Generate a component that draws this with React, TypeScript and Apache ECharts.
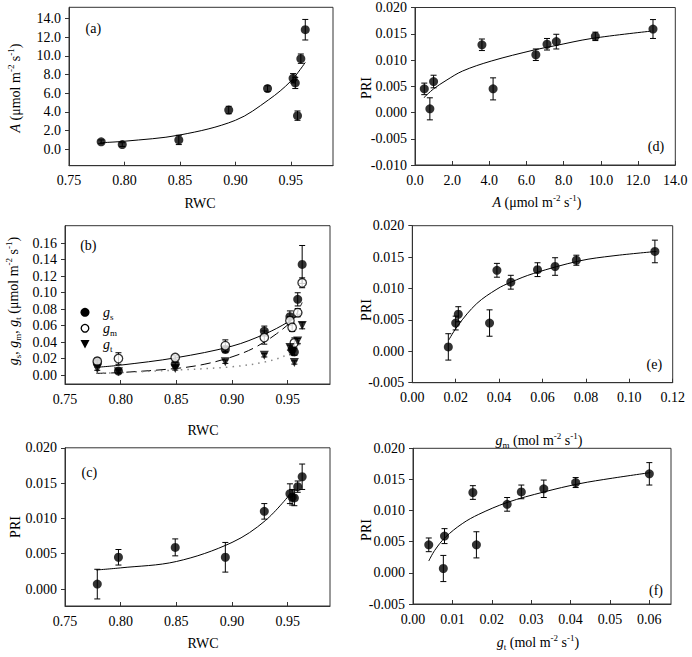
import React, { useEffect, useRef } from "react";
import * as echarts from "echarts";

// ---- observations (10 leaves) ----
const rwc = [0.779, 0.798, 0.849, 0.894, 0.929, 0.952, 0.954, 0.956, 0.959, 0.963];
const photoA = [0.8, 0.5, 1.0, 4.2, 6.5, 7.6, 7.1, 3.6, 9.7, 12.8];
const photoAErr = [0.2, 0.2, 0.5, 0.4, 0.3, 0.5, 0.6, 0.5, 0.5, 1.1];
const gs = [0.015, 0.0048, 0.0133, 0.031, 0.0533, 0.0707, 0.031, 0.028, 0.0917, 0.134];
const gsErr = [0.003, 0.002, 0.002, 0.004, 0.006, 0.007, 0.004, 0.004, 0.008, 0.023];
const gm = [0.0166, 0.02, 0.0212, 0.0356, 0.0454, 0.0658, 0.0577, 0.039, 0.0756, 0.1118];
const gmErr = [0.004, 0.007, 0.002, 0.007, 0.008, 0.005, 0.005, 0.006, 0.005, 0.006];
const gt = [0.0077, 0.004, 0.008, 0.0161, 0.0239, 0.0332, 0.0275, 0.0152, 0.0413, 0.06];
const gtErr = [0.002, 0.002, 0.002, 0.002, 0.002, 0.003, 0.003, 0.002, 0.003, 0.004];
const pri = [0.0007, 0.0045, 0.0059, 0.0045, 0.011, 0.0135, 0.013, 0.0129, 0.0145, 0.0159];
const priErr = [0.0021, 0.0011, 0.0012, 0.0021, 0.0011, 0.0014, 0.0011, 0.0011, 0.0008, 0.0018];

// ---- fitted curves ----
const aFitX = [0.778, 0.8, 0.85, 0.9, 0.93, 0.95, 0.963];
const aFitY = [0.7, 0.86, 1.53, 3.1, 5.3, 7.3, 9.3];
const gmFitX = [0.778, 0.8, 0.85, 0.9, 0.93, 0.95, 0.963];
const gmFitY = [0.0093, 0.012, 0.021, 0.035, 0.05, 0.064, 0.076];
const gsFitX = [0.778, 0.8, 0.85, 0.875, 0.9, 0.92, 0.94, 0.955, 0.963];
const gsFitY = [0.002, 0.003, 0.008, 0.013, 0.022, 0.033, 0.05, 0.068, 0.088];
const gtFitX = [0.778, 0.8, 0.85, 0.9, 0.93, 0.95, 0.963];
const gtFitY = [0.002, 0.003, 0.006, 0.01, 0.016, 0.025, 0.04];
const cFitX = [0.778, 0.8, 0.85, 0.9, 0.93, 0.953];
const cFitY = [0.0027, 0.003, 0.0039, 0.0066, 0.0097, 0.0136];
const dFitX = [0.47, 1.0, 1.67, 2.56, 4.1, 6.4, 7.5, 9.5, 12.7];
const dFitY = [0.0028, 0.0045, 0.0061, 0.0079, 0.0098, 0.0119, 0.0127, 0.0141, 0.0155];
const eFitX = [0.0168, 0.0212, 0.0297, 0.039, 0.0454, 0.0559, 0.0771, 0.0925, 0.1125];
const eFitY = [0.0018, 0.0042, 0.0076, 0.0099, 0.011, 0.0124, 0.0144, 0.0152, 0.0159];
const fFitX = [0.004, 0.0055, 0.0082, 0.0125, 0.0167, 0.0239, 0.0333, 0.0421, 0.0506, 0.0603];
const fFitY = [0.0019, 0.0036, 0.0057, 0.0079, 0.0094, 0.0113, 0.013, 0.0143, 0.0152, 0.0161];

// ---- tick labels ----
const rwcTicks = [0.75, 0.8, 0.85, 0.9, 0.95];
const aTicks = [0, 2, 4, 6, 8, 10, 12, 14];
const gTicks = [0, 0.02, 0.04, 0.06, 0.08, 0.1, 0.12, 0.14, 0.16];
const priTicksC = [0, 0.005, 0.01, 0.015, 0.02];
const priTicksD = [-0.01, -0.005, 0, 0.005, 0.01, 0.015, 0.02];
const priTicksEF = [-0.005, 0, 0.005, 0.01, 0.015, 0.02];
const aXTicks = [0, 2, 4, 6, 8, 10, 12, 14];
const gmXTicks = [0, 0.02, 0.04, 0.06, 0.08, 0.1, 0.12];
const gtXTicks = [0, 0.01, 0.02, 0.03, 0.04, 0.05, 0.06];
const legendNames = ["gs", "gm", "gt"];

const FONT = "Liberation Serif";
const AX = "#333";

const rich = {
  i: { fontStyle: "italic", fontFamily: FONT, fontSize: 14, lineHeight: 18 },
  sup: { fontFamily: FONT, fontSize: 9, lineHeight: 9, verticalAlign: "top" },
  sub: { fontFamily: FONT, fontSize: 9, lineHeight: 9, verticalAlign: "bottom" },
};

const grids = [
  { left: 69, top: 7.3, width: 264, height: 158.4 },
  { left: 65, top: 225.7, width: 265, height: 158.3 },
  { left: 65, top: 447.8, width: 265, height: 158.2 },
  { left: 415, top: 7.5, width: 260.3, height: 157.5 },
  { left: 412.3, top: 225.7, width: 260.4, height: 157 },
  { left: 413, top: 448.3, width: 258, height: 155.7 },
];

function xAxis(gi: number, min: number, max: number, ticks: number[], dec: number) {
  return {
    type: "value", gridIndex: gi, min, max,
    splitLine: { show: false },
    axisLine: { show: true, onZero: false, lineStyle: { color: AX, width: 1 } },
    axisTick: { show: true, inside: true, length: 4, customValues: ticks, lineStyle: { color: AX } },
    axisLabel: { customValues: ticks, formatter: (v: number) => v.toFixed(dec), fontFamily: FONT, fontSize: 14, color: "#000", margin: 8 },
  };
}
function yAxis(gi: number, min: number, max: number, ticks: number[], dec: number) {
  return {
    type: "value", gridIndex: gi, min, max,
    splitLine: { show: false },
    axisLine: { show: true, onZero: false, lineStyle: { color: AX, width: 1 } },
    axisTick: { show: true, inside: false, length: 4, customValues: ticks, lineStyle: { color: AX } },
    axisLabel: { customValues: ticks, formatter: (v: number) => v.toFixed(dec), fontFamily: FONT, fontSize: 14, color: "#000", margin: 8 },
  };
}

const pairs = (xs: number[], ys: number[]) => xs.map((x, i) => [x, ys[i]]);

function errBars(gi: number, xs: number[], ys: number[], es: number[]) {
  return {
    type: "custom", xAxisIndex: gi, yAxisIndex: gi, silent: true, z: 2,
    data: xs.map((x, i) => [x, ys[i], es[i]]),
    encode: { x: 0, y: 1 },
    renderItem: (_p: any, api: any) => {
      const x = api.value(0), y = api.value(1), e = api.value(2);
      const t = api.coord([x, y + e]);
      const b = api.coord([x, y - e]);
      const c = 3;
      const st = { stroke: "#000", lineWidth: 1 };
      return {
        type: "group",
        children: [
          { type: "line", shape: { x1: t[0], y1: t[1], x2: b[0], y2: b[1] }, style: st },
          { type: "line", shape: { x1: t[0] - c, y1: t[1], x2: t[0] + c, y2: t[1] }, style: st },
          { type: "line", shape: { x1: b[0] - c, y1: b[1], x2: b[0] + c, y2: b[1] }, style: st },
        ],
      };
    },
  };
}

function dots(gi: number, name: string, xs: number[], ys: number[], kind = "filled") {
  const base: any = {
    type: "scatter", name, xAxisIndex: gi, yAxisIndex: gi, z: 3,
    data: pairs(xs, ys), symbol: "circle", symbolSize: 9,
    itemStyle: { color: "#000" },
  };
  if (kind === "open") {
    base.symbolSize = 8.5;
    base.itemStyle = { color: "#fff", borderColor: "#000", borderWidth: 1.3 };
  } else if (kind === "tri") {
    base.symbol = "triangle";
    base.symbolRotate = 180;
    base.symbolSize = 9;
  }
  return base;
}

function fit(gi: number, xs: number[], ys: number[], type: any = "solid", color = "#000", width = 1) {
  return {
    type: "line", xAxisIndex: gi, yAxisIndex: gi, z: 2, silent: true,
    data: pairs(xs, ys), symbol: "none", showSymbol: false,
    smooth: 0.35,
    lineStyle: { color, width, type },
  };
}

function label(x: number, y: number, text: string, rot = 0, align = "center") {
  return {
    type: "text", x, y, rotation: rot, silent: true,
    style: {
      text, fontFamily: FONT, fontSize: 14, fill: "#000", lineHeight: 18,
      align, verticalAlign: "middle", textAlign: align, textVerticalAlign: "middle",
      rich,
    },
  };
}

const unitsUmol = " (μmol m{sup|-2} s{sup|-1})";
const unitsMol = " (mol m{sup|-2} s{sup|-1})";

// legend for panel (b), drawn as graphic marks
const legendY = [312.3, 328.3, 344];
const legendGraphic = [
  { type: "circle", shape: { cx: 85, cy: legendY[0], r: 4.5 }, style: { fill: "#000" }, silent: true },
  { type: "circle", shape: { cx: 85, cy: legendY[1], r: 3.8 }, style: { fill: "#fff", stroke: "#000", lineWidth: 1.3 }, silent: true },
  {
    type: "polygon", silent: true,
    shape: { points: [[80.5, legendY[2] - 4], [89.5, legendY[2] - 4], [85, legendY[2] + 4.5]] },
    style: { fill: "#000" },
  },
  ...legendNames.map((n, i) => label(103, legendY[i], `{i|g}{sub|${n.slice(1)}}`, 0, "left")),
];

export default function App() {
  const ref = useRef<HTMLDivElement>(null);
  useEffect(() => {
    if (!ref.current) return;
    const chart = echarts.init(ref.current, undefined, { renderer: "svg" });
    const option: any = {
      animation: false,
      backgroundColor: "#fff",
      textStyle: { fontFamily: FONT },
      grid: grids.map((g) => ({ ...g, show: true, borderColor: AX, borderWidth: 1, backgroundColor: "transparent", containLabel: false })),
      xAxis: [
        xAxis(0, 0.75, 0.988, rwcTicks, 2),
        xAxis(1, 0.75, 0.988, rwcTicks, 2),
        xAxis(2, 0.75, 0.988, rwcTicks, 2),
        xAxis(3, 0, 14, aXTicks, 1),
        xAxis(4, 0, 0.12, gmXTicks, 2),
        xAxis(5, 0, 0.0655, gtXTicks, 2),
      ],
      yAxis: [
        yAxis(0, -1.76, 15.2, aTicks, 1),
        yAxis(1, -0.0109, 0.181, gTicks, 2),
        yAxis(2, -0.0024, 0.02, priTicksC, 3),
        yAxis(3, -0.01, 0.02, priTicksD, 3),
        yAxis(4, -0.005, 0.02, priTicksEF, 3),
        yAxis(5, -0.005, 0.02, priTicksEF, 3),
      ],
      series: [
        // (a)
        fit(0, aFitX, aFitY),
        errBars(0, rwc, photoA, photoAErr),
        dots(0, "A", rwc, photoA),
        // (b)
        fit(1, gmFitX, gmFitY),
        fit(1, gsFitX, gsFitY, [10, 5]),
        fit(1, gtFitX, gtFitY, [1.5, 5], "#888", 1.5),
        errBars(1, rwc, gs, gsErr),
        dots(1, "gs", rwc, gs),
        errBars(1, rwc, gm, gmErr),
        dots(1, "gm", rwc, gm, "open"),
        errBars(1, rwc, gt, gtErr),
        dots(1, "gt", rwc, gt, "tri"),
        // (c)
        fit(2, cFitX, cFitY),
        errBars(2, rwc, pri, priErr),
        dots(2, "PRI vs RWC", rwc, pri),
        // (d)
        fit(3, dFitX, dFitY),
        errBars(3, photoA, pri, priErr),
        dots(3, "PRI vs A", photoA, pri),
        // (e)
        fit(4, eFitX, eFitY),
        errBars(4, gm, pri, priErr),
        dots(4, "PRI vs gm", gm, pri),
        // (f)
        fit(5, fFitX, fFitY),
        errBars(5, gt, pri, priErr),
        dots(5, "PRI vs gt", gt, pri),
      ],
      graphic: [
        label(93.3, 28.3, "(a)"),
        label(88.3, 245, "(b)"),
        label(89.3, 472.3, "(c)"),
        label(656, 146, "(d)"),
        label(654.3, 364, "(e)"),
        label(656, 590.7, "(f)"),
        // axis titles
        label(200, 203, "RWC"),
        label(203, 430, "RWC"),
        label(203, 643.3, "RWC"),
        label(537, 202, "{i|A}" + unitsUmol),
        label(539, 440, "{i|g}{sub|m}" + unitsMol),
        label(538, 642, "{i|g}{sub|t}" + unitsMol),
        label(15, 88, "{i|A}" + unitsUmol, Math.PI / 2),
        label(13, 301, "{i|g}{sub|s}, {i|g}{sub|m}, {i|g}{sub|t}" + unitsUmol, Math.PI / 2),
        label(15, 527, "PRI", Math.PI / 2),
        label(366, 88, "PRI", Math.PI / 2),
        label(366, 310, "PRI", Math.PI / 2),
        label(366, 530, "PRI", Math.PI / 2),
        ...legendGraphic,
      ],
    };
    chart.setOption(option);
    return () => chart.dispose();
  }, []);
  return <div ref={ref} style={{ position: "fixed", left: 0, top: 0, width: 692, height: 657 }} />;
}
